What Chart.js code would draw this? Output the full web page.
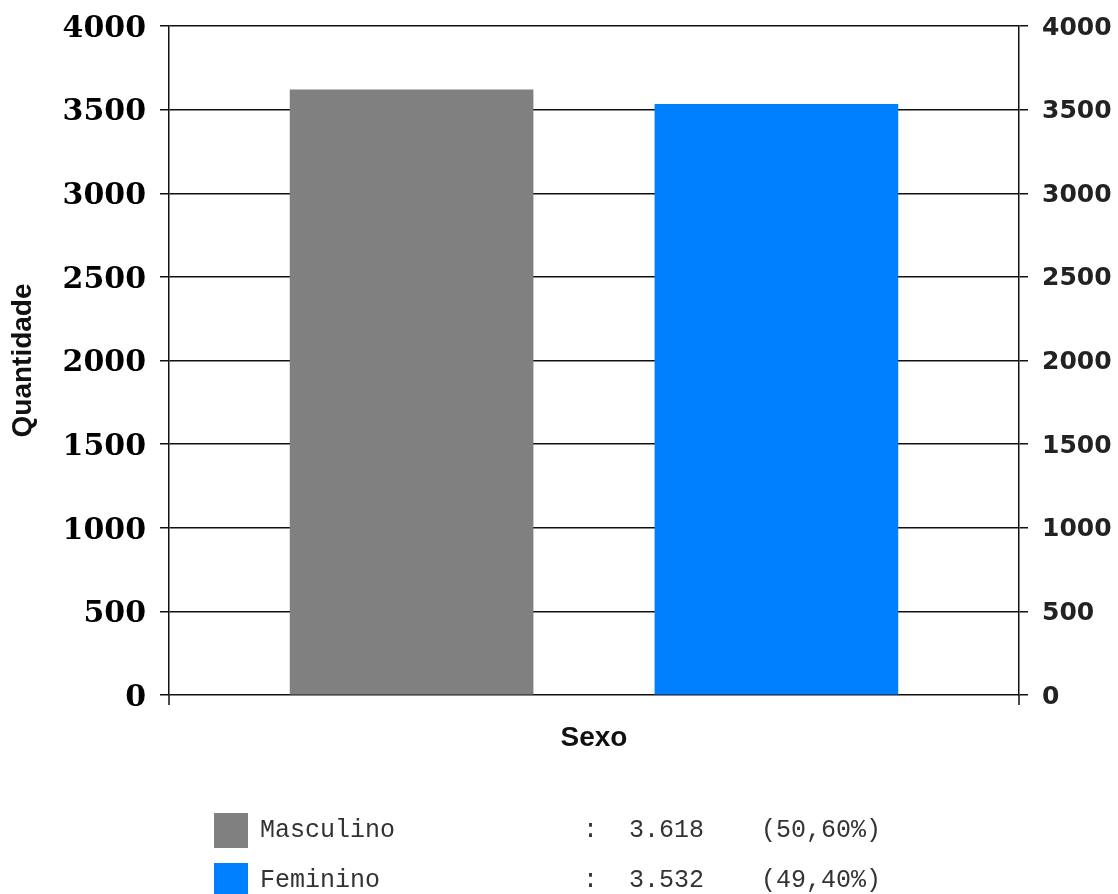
<!DOCTYPE html>
<html>
<head>
<meta charset="utf-8">
<script src="https://cdn.jsdelivr.net/npm/chart.js@4"></script>
<style>
  body { margin: 0; background: #fff; }
  #wrap { position: relative; width: 1118px; height: 894px; overflow: hidden; }
  .sq { position: absolute; left: 214px; width: 34px; height: 35px; }
  .lg { position: absolute; font-family: "Liberation Mono", "Courier New", monospace; font-size: 25px; color: #333; line-height: 35px; white-space: pre; }
</style>
</head>
<body>
<div id="wrap">
  <canvas id="myChart" width="1118" height="894"></canvas>
</div>
<script>
// dados do gráfico
const categories = ["Masculino", "Feminino"];
const values = [3618, 3532];
const valueLabels = ["3.618", "3.532"];
const percentLabels = ["(50,60%)", "(49,40%)"];
const colors = ["#808080", "#0080ff"];
const yTicks = [0, 500, 1000, 1500, 2000, 2500, 3000, 3500, 4000];

// prolonga as linhas dos eixos abaixo do zero
const axisTails = {
  id: "axisTails",
  afterDraw(chart) {
    const { ctx, chartArea } = chart;
    ctx.save();
    ctx.strokeStyle = "#111";
    ctx.lineWidth = 1.5;
    ctx.beginPath();
    [chartArea.left, chartArea.right].forEach((x) => {
      ctx.moveTo(x, chartArea.bottom);
      ctx.lineTo(x, chartArea.bottom + 10);
    });
    ctx.stroke();
    ctx.restore();
  },
};

const ctx = document.getElementById("myChart").getContext("2d");
const myGraph = new Chart(ctx, {
  type: "bar",
  data: {
    datasets: [
      {
        label: "Sexo",
        data: categories.map((c, i) => ({ x: i + 1, y: values[i] })),
        backgroundColor: colors,
        barThickness: 243,
      },
    ],
  },
  plugins: [axisTails],
  options: {
    responsive: false,
    animation: false,
    layout: { padding: { top: 4, bottom: 113, left: 0, right: 0 } },
    plugins: { legend: { display: false }, tooltip: { enabled: false } },
    scales: {
      x: {
        type: "linear",
        offset: false,
        min: 0.335,
        max: 2.665,
        ticks: { display: false },
        grid: { display: false },
        border: { display: false },
        title: {
          display: true,
          text: "Sexo",
          color: "#111",
          font: { family: "Liberation Sans", size: 28, weight: "bold" },
          padding: 26,
        },
        afterFit: (scale) => { scale.height = 86; },
      },
      y: {
        position: "left",
        min: 0,
        max: 4000,
        afterBuildTicks: (scale) => { scale.ticks = yTicks.map((v) => ({ value: v })); },
        ticks: {
          color: "#000",
          padding: 14,
          labelOffset: 3,
          font: { family: "DejaVu Serif", size: 30, weight: "bold", lineHeight: 0.8 },
          callback: (v) => String(v),
        },
        grid: { color: "#111", lineWidth: 1.5, tickLength: 9 },
        border: { display: true, color: "#111", width: 1.5 },
        title: {
          display: true,
          text: "Quantidade",
          color: "#111",
          font: { family: "Liberation Sans", size: 28, weight: "bold" },
          padding: 6,
        },
        afterFit: (scale) => { scale.width = 169; },
      },
      y2: {
        position: "right",
        min: 0,
        max: 4000,
        afterBuildTicks: (scale) => { scale.ticks = yTicks.map((v) => ({ value: v })); },
        ticks: {
          color: "#222",
          padding: 14,
          labelOffset: 2,
          font: { family: "DejaVu Sans", size: 25, weight: "bold", lineHeight: 0.8 },
          callback: (v) => String(v),
        },
        grid: { drawOnChartArea: false, color: "#111", lineWidth: 1.5, tickLength: 9 },
        border: { display: true, color: "#111", width: 1.5 },
        afterFit: (scale) => { scale.width = 99; },
      },
    },
  },
});

// legenda com os totais
const wrap = document.getElementById("wrap");
categories.forEach((name, i) => {
  const top = 813 + i * 50;
  const sq = document.createElement("div");
  sq.className = "sq";
  sq.style.top = top + "px";
  sq.style.background = colors[i];
  wrap.appendChild(sq);

  const cols = [
    [260, name],
    [583, ":"],
    [629, valueLabels[i]],
    [761, percentLabels[i]],
  ];
  cols.forEach(([left, txt]) => {
    const s = document.createElement("div");
    s.className = "lg";
    s.style.left = left + "px";
    s.style.top = top + "px";
    s.textContent = txt;
    wrap.appendChild(s);
  });
});
</script>
</body>
</html>
